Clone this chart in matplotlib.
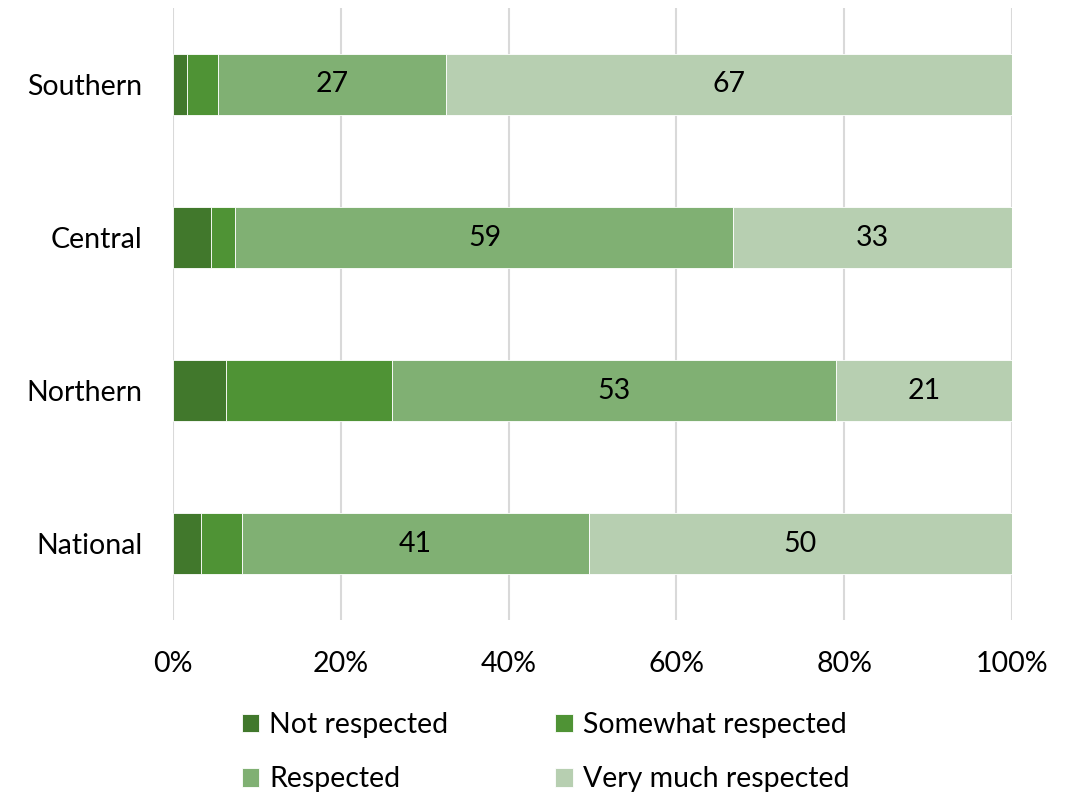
import matplotlib.pyplot as plt
import numpy as np

plt.rcParams['font.family'] = ['Lato', 'DejaVu Sans']

regions = ['National', 'Northern', 'Central', 'Southern']
not_respected = [3.3, 6.3, 4.5, 1.7]
somewhat_respected = [4.8, 19.9, 2.9, 3.6]
respected = [41, 53, 59, 27]
very_much_respected = [50, 21, 33, 67]

series = [
    ('Not respected', not_respected, '#41782C', False),
    ('Somewhat respected', somewhat_respected, '#4F9335', False),
    ('Respected', respected, '#80B073', True),
    ('Very much respected', very_much_respected, '#B7CFB1', True),
]

totals = np.sum([s[1] for s in series], axis=0)

fig = plt.figure(figsize=(10.76, 7.95), dpi=100)
ax = fig.add_axes([0.1608, 0.22, 0.7797, 0.77])

y = np.arange(len(regions))
left = np.zeros(len(regions))
handles = []
for name, vals, color, show in series:
    share = np.array(vals) / totals * 100
    bars = ax.barh(y, share, left=left, height=0.4, color=color,
                   edgecolor='white', linewidth=0.6, label=name, zorder=3)
    handles.append(bars)
    if show:
        ax.bar_label(bars, labels=[f'{v:.0f}' for v in vals],
                     label_type='center', fontsize=20.5, color='black')
    left += share

ax.set_xlim(0, 100)
ax.set_ylim(-0.5, 3.5)
ax.set_yticks(y)
ax.set_yticklabels(regions, fontsize=20.5)
ax.set_xticks(np.arange(0, 101, 20))
ax.set_xticklabels([f'{t}%' for t in range(0, 101, 20)], fontsize=20.5)
ax.tick_params(axis='x', length=0, pad=22)
ax.tick_params(axis='y', length=0, pad=22)
ax.grid(axis='x', color='#D9D9D9', linewidth=1.5, zorder=0)
for s in ax.spines.values():
    s.set_visible(False)

# legend reads row by row: matplotlib fills columns, so reorder
order = [0, 2, 1, 3]
fig.legend([handles[i] for i in order], [series[i][0] for i in order],
           loc='center', bbox_to_anchor=(0.507, 0.054), ncol=2, frameon=False,
           fontsize=20.5, handlelength=0.62, handleheight=0.62, handletextpad=0.35,
           columnspacing=3.75, labelspacing=1.0)

fig.savefig('out.png', dpi=100)
